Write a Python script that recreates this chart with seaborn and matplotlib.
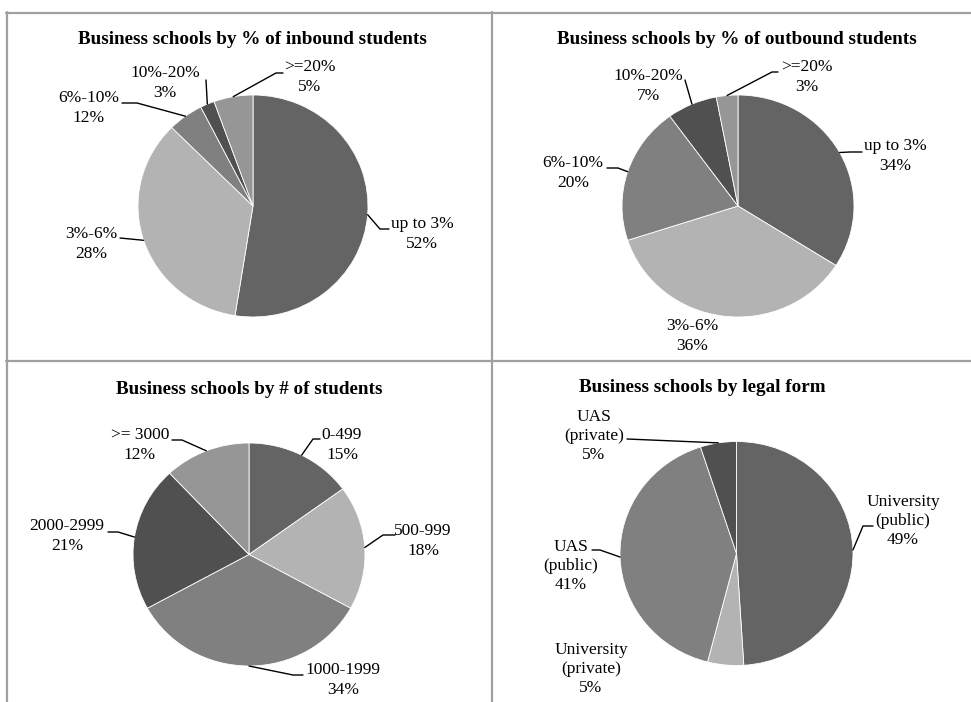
import numpy as np
import matplotlib
matplotlib.use("Agg")
import matplotlib.pyplot as plt
from matplotlib.lines import Line2D
import seaborn as sns

# ---------------- data ----------------
inb_labels = ["up to 3%", "3%-6%", "6%-10%", "10%-20%", ">=20%"]
inb_sizes = [52.5, 35, 5, 2, 5.5]          # slice sizes as drawn
inb_pcts = ["52%", "28%", "12%", "3%", "5%"]  # label texts as printed

out_labels = ["up to 3%", "3%-6%", "6%-10%", "10%-20%", ">=20%"]
out_sizes = [34, 36, 20, 7, 3]
out_pcts = ["34%", "36%", "20%", "7%", "3%"]

num_labels = ["0-499", "500-999", "1000-1999", "2000-2999", ">= 3000"]
num_sizes = [15, 18, 34, 21, 12]
num_pcts = ["15%", "18%", "34%", "21%", "12%"]

leg_labels = ["University\n(public)", "University\n(private)", "UAS\n(public)", "UAS\n(private)"]
leg_sizes = [49, 5, 41, 5]
leg_pcts = ["49%", "5%", "41%", "5%"]

titles = ["Business schools by % of inbound students",
          "Business schools by % of outbound students",
          "Business schools by # of students",
          "Business schools by legal form"]

# ---------------- style ----------------
sns.set_theme(style="white")
plt.rcParams["font.family"] = ["Liberation Serif", "DejaVu Serif"]

grays5 = ["#646464", "#b3b3b3", "#808080", "#505050", "#969696"]

W, H = 971, 702
fig = plt.figure(figsize=(W / 100, H / 100), dpi=100)
fig.patch.set_facecolor("white")


def fp(x, y):
    """pixel (from top-left) -> figure fraction"""
    return x / W, 1 - y / H


# table borders
border = "#a0a0a0"
for (x0, y0), (x1, y1) in [((6, 12.5), (971, 12.5)), ((7, 12), (7, 702)),
                           ((491.5, 12), (491.5, 702)), ((6, 361), (971, 361))]:
    a, b = fp(x0, y0)
    c, d = fp(x1, y1)
    fig.add_artist(Line2D([a, c], [b, d], color=border, lw=1.6,
                          transform=fig.transFigure))

# ---------------- layout ----------------
panels = [
    dict(sizes=inb_sizes, labels=inb_labels, pcts=inb_pcts, colors=grays5,
         c=(253, 206), r=(115, 111), title=(252, 40),
         lab=[(422, 234), (91, 244), (89, 108), (165, 83), (310, 77)],
         lead=[[(380, 229), (389, 229)], [(120, 238)], [(137, 103), (122, 103)],
               [(206, 80)], [(276, 73), (283, 73)]]),
    dict(sizes=out_sizes, labels=out_labels, pcts=out_pcts, colors=grays5,
         c=(738, 206), r=(116, 111), title=(737, 40),
         lab=[(895, 156), (692, 336), (573, 173), (648, 86), (807, 77)],
         lead=[[(850, 152), (862, 152)], None, [(618, 168), (607, 168)],
               [(685, 80)], [(772, 72), (778, 72)]]),
    dict(sizes=num_sizes, labels=num_labels, pcts=num_pcts, colors=grays5,
         c=(249, 554.5), r=(116, 111.5), title=(249, 389),
         lab=[(342, 445), (423, 541), (343, 680), (67, 536), (140, 445)],
         lead=[[(313, 439), (320, 439)], [(383, 535), (395, 535)],
               [(293, 675), (303, 675)], [(118, 532), (108, 532)],
               [(182, 440), (172, 440)]]),
    dict(sizes=leg_sizes, labels=leg_labels, pcts=leg_pcts, colors=grays5[:4],
         c=(736.5, 553.5), r=(116.5, 112), title=(702, 388),
         lab=[(903, 521), (591, 669), (571, 566), (594, 436)],
         lead=[[(863, 526), (873, 526)], None, [(600, 550), (592, 550)],
               [(627, 439)]]),
]

for p, title in zip(panels, titles):
    cx, cy = p["c"]
    rx, ry = p["r"]
    l, b = fp(cx - rx, cy + ry)
    ax = fig.add_axes([l, b, 2 * rx / W, 2 * ry / H])
    wedges, _ = ax.pie(p["sizes"], colors=p["colors"], startangle=90,
                       counterclock=False, radius=1,
                       wedgeprops=dict(edgecolor="white", linewidth=0.6))
    ax.set_xlim(-1, 1)
    ax.set_ylim(-1, 1)
    ax.set_aspect("auto")
    ax.axis("off")
    for w in wedges:
        w.set_clip_on(False)

    tx, ty = fp(*p["title"])
    fig.text(tx, ty, title, ha="center", va="center", fontsize=13.8,
             fontweight="bold", color="black")

    for w, lab, pct, pos, lead in zip(wedges, p["labels"], p["pcts"],
                                      p["lab"], p["lead"]):
        x, y = fp(*pos)
        fig.text(x, y, f"{lab}\n{pct}", ha="center", va="center",
                 multialignment="center", fontsize=12.5, linespacing=1.28,
                 color="black")
        if lead:
            ang = np.deg2rad((w.theta1 + w.theta2) / 2)
            ex, ey = np.cos(ang), np.sin(ang)
            disp = ax.transData.transform((ex, ey))
            sx, sy = fig.transFigure.inverted().transform(disp)
            xs = [sx] + [fp(*q)[0] for q in lead]
            ys = [sy] + [fp(*q)[1] for q in lead]
            fig.add_artist(Line2D(xs, ys, color="black", lw=1.0,
                                  transform=fig.transFigure))

fig.savefig("out.png", dpi=100, facecolor="white")
